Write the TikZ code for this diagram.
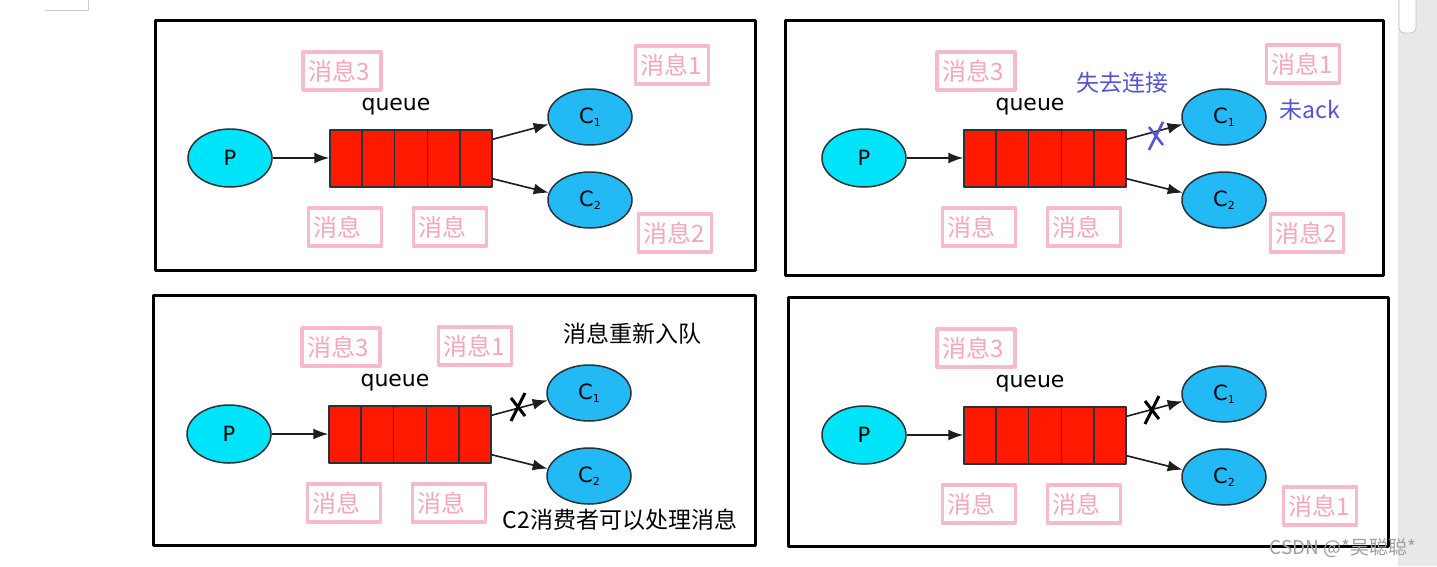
\documentclass[tikz,border=0pt]{standalone}
\usepackage{fontspec}
\setmainfont{Noto Sans CJK SC}
\newfontfamily\verdanaish{DejaVu Sans}
\usetikzlibrary{shapes.geometric,arrows.meta,calc,positioning}
\definecolor{prodcyan}{RGB}{0,228,250}
\definecolor{consblue}{RGB}{35,185,245}
\definecolor{queuered}{RGB}{255,25,0}
\definecolor{edgegray}{RGB}{40,50,55}
\definecolor{arrowgray}{RGB}{30,30,30}
\definecolor{pinkline}{RGB}{246,186,202}
\definecolor{pinktext}{RGB}{245,165,188}
\definecolor{lostblue}{RGB}{85,85,210}
\definecolor{scrollgray}{RGB}{232,232,232}
\newcommand{\csub}[1]{C\raisebox{-3pt}{\fontsize{11}{11}\selectfont #1}}
\begin{document}
\begin{tikzpicture}[x=1pt, y=-1pt, line join=round, >={Latex[length=15pt,width=11pt]}, font=\fontsize{23}{26}\selectfont]
	\tikzset{
		frame/.style={draw=black, line width=3pt},
		prod/.style={ellipse, draw=edgegray, line width=1.5pt, fill=prodcyan, minimum width=84pt, minimum height=58pt, inner sep=0pt, font=\verdanaish\fontsize{21}{21}\selectfont},
		cons/.style={prod, fill=consblue, minimum height=56pt},
		queue/.style={draw=edgegray, line width=1.5pt, fill=queuered, minimum width=162pt, minimum height=57pt, inner sep=0pt},
		msgbox/.style={draw=pinkline, line width=3.2pt, text=pinktext, font=\fontsize{24}{26}\selectfont, text width=#1, align=left, minimum height=38pt, inner xsep=5pt, inner ysep=0pt},
		msgbox/.default=63pt,
		flow/.style={->, draw=arrowgray, line width=1.6pt},
		note/.style={inner sep=0pt},
		cross/.pic={\draw (7,-14) -- (-7,14) (-7,-9) -- (7,9);}
	}
	\fill[white] (0,0) rectangle (1437,566);
	\useasboundingbox (0,0) rectangle (1437,566);
	\draw[gray!40, line width=0.8pt] (45,10) -- (88,10) -- (88,0);
	% the four frames
	\draw[frame] (155,20) rectangle (755,270);
	\draw[frame] (785,20) rectangle (1383,275);
	\draw[frame] (153,295) rectangle (755,545);
	\draw[frame] (788,297) rectangle (1388,546);
	% common part of every panel
	\foreach \dx/\dy/\k in {0/0/1, 634/0/2, -1/276/3, 634/277/4}{
		\begin{scope}[shift={(\dx,\dy)}, name prefix=p\k-]
			\node[prod] (P) at (230,158) {P};
			\node[queue] (q) at (411,158.5) {};
			\foreach \i in {1,...,4}
				\draw[edgegray, line width=1.5pt] ($(q.north west)!\i/5!(q.north east)$) -- ($(q.south west)!\i/5!(q.south east)$);
			\node[cons] (C1) at (590,117) {\csub{1}};
			\node[cons] (C2) at (590,200) {\csub{2}};
			\node[note, font=\verdanaish\fontsize{22}{22}\selectfont] (qname) at (396,107) {queue};
			\draw[flow] (P.east) -- (P.east -| q.west);
			\draw[flow] ($(q.north east)+(0,10)$) -- (C1.190);
			\draw[flow] ($(q.south east)+(0,-9)$) -- (C2.170);
			\node[msgbox=68pt] (m3) at (342,71) {消息3};
			\node[msgbox] (ma) at (345,227) {消息};
			\node[msgbox] (mb) at (450,227) {消息};
		\end{scope}
	}
	% panel 1
	\node[msgbox] (p1-m1) at (672,65) {消息1};
	\node[msgbox] (p1-m2) at (675,233) {消息2};
	% panel 2
	\node[note, text=lostblue] (p2-lost) at (1122,83) {失去连接};
	\node[msgbox] (p2-m1) at (1303,64) {消息1};
	\node[note, text=lostblue] (p2-noack) at (1310,110) {未ack};
	\node[msgbox] (p2-m2) at (1307,233) {消息2};
	\pic[lostblue, line width=2.5pt] at (1156,136) {cross};
	% panel 3
	\node[msgbox] (p3-m1) at (475,346) {消息1};
	\node[note] (p3-requeue) at (632,334) {消息重新入队};
	\pic[black, line width=3pt] at (518,407) {cross};
	\node[note] (p3-c2ok) at (620,520) {C2消费者可以处理消息};
	% panel 4
	\node[msgbox] (p4-m1) at (1320,506) {消息1};
	\pic[black, line width=3pt] at (1152,410) {cross};
	% scroll bar and mark
	\fill[scrollgray] (1398,0) rectangle (1437,566);
	\draw[gray!45, fill=white, rounded corners=5pt, line width=0.8pt] (1399,-6) rectangle (1416,33);
	\node[note, text=gray!75, font=\fontsize{19}{19}\selectfont] (mark) at (1343,548) {CSDN @*吴聪聪*};
\end{tikzpicture}
\end{document}
